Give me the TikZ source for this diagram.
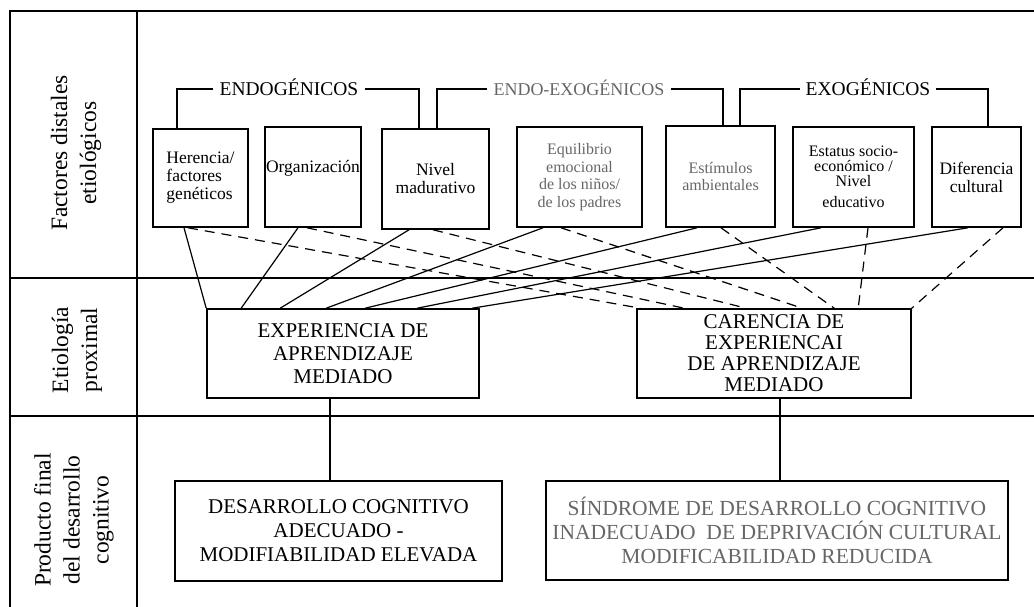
\documentclass[tikz,border=0pt]{standalone}
\usepackage{fontspec}
\setmainfont{Liberation Serif}
\usepackage{tikz}

\begin{document}
\begin{tikzpicture}[x=1pt,y=-1pt]
\tikzstyle{every node}=[inner sep=0pt]
\tikzstyle{box}=[draw,line width=1.6pt,align=center,font=\fontsize{17.5}{18}\selectfont]
\tikzstyle{dimbox}=[box,text=black!60,font=\fontsize{16}{17.5}\selectfont]
\tikzstyle{bigbox}=[box,font=\fontsize{21}{23}\selectfont]
\tikzstyle{lane}=[rotate=90,align=center,font=\fontsize{23.5}{29}\selectfont]
\tikzstyle{grp}=[inner sep=6pt,text height=13pt,text depth=0pt,font=\fontsize{19.5}{20}\selectfont]
\tikzstyle{link}=[line width=1.2pt]
\tikzstyle{nolink}=[line width=1.2pt,dash pattern=on 10pt off 7pt]
\useasboundingbox (0,0) rectangle (1034,607);

% rejilla
\draw[line width=1.6pt] (1034,11) -- (10,11) -- (10,607) (137,11) -- (137,607) (10,278) -- (1034,278) (10,416) -- (1034,416);
\node[lane] (fila1) at (76,153) {Factores distales\\etiológicos};
\node[lane] (fila2) at (77,350) {Etiología\\proximal};
\node[lane] (fila3) at (74,520) {Producto final\\del desarrollo\\cognitivo};

% factores distales
\node[box,minimum width=95,minimum height=98,align=left] (her) at (200.5,178) {Herencia/\\factores\\genéticos};
\node[box,minimum width=96,minimum height=100] (org) at (313,177) {Organización\\[4pt]\mbox{}};
\node[box,minimum width=107,minimum height=100] (niv) at (435.5,179) {Nivel\\madurativo};
\node[dimbox,minimum width=125,minimum height=100] (equ) at (579.5,177) {Equilibrio\\emocional\\de los niños/\\de los padres};
\node[dimbox,minimum width=109,minimum height=101] (est) at (720.5,176.5) {Estímulos\\ambientales};
\node[box,minimum width=121,minimum height=100,font=\fontsize{16}{15}\selectfont] (ses) at (853.5,177) {Estatus socio-\\económico /\\Nivel\\[6pt]educativo};
\node[box,minimum width=89,minimum height=100] (dif) at (976.5,177) {Diferencia\\cultural};

\node[grp] (endo) at (289,89) {ENDOGÉNICOS};
\node[grp,text=black!60,font=\fontsize{18}{20}\selectfont] (endoexo) at (579,89) {ENDO-EXOGÉNICOS};
\node[grp] (exo) at (868,89) {EXOGÉNICOS};
\draw[link] ([xshift=-23.5]her.north) |- (endo.west) (endo.east) -| ([xshift=-16.5]niv.north);
\draw[link] ([xshift=1.5]niv.north) |- (endoexo.west) (endoexo.east) -| ([xshift=2.5]est.north);
\draw[link] ([xshift=19.5]est.north) |- (exo.west) (exo.east) -| ([xshift=11.5]dif.north);

% etiologia proximal
\node[bigbox,minimum width=272,minimum height=89] (exp) at (343,353.5) {EXPERIENCIA DE\\APRENDIZAJE\\MEDIADO};
\node[bigbox,minimum width=274,minimum height=89,font=\fontsize{21}{21}\selectfont] (car) at (774,353.5) {CARENCIA DE\\EXPERIENCAI\\DE APRENDIZAJE\\MEDIADO};

\draw[link] ([xshift=-16.5]her.south) -- (exp.north west);
\draw[link] ([xshift=-15]org.south) -- ([xshift=35]exp.north west);
\draw[link] ([xshift=-26.5]niv.south) -- ([xshift=74]exp.north west);
\draw[link] ([xshift=-36.5]equ.south) -- ([xshift=120]exp.north west);
\draw[link] ([xshift=-23.5]est.south) -- ([xshift=159]exp.north west);
\draw[link] ([xshift=-32.5]ses.south) -- ([xshift=211]exp.north west);
\draw[link] ([xshift=-8.5]dif.south) -- ([xshift=266]exp.north west);

\draw[nolink] ([xshift=-12.5]her.south) -- ([xshift=4]car.north west);
\draw[nolink] ([xshift=-6]org.south) -- ([xshift=48]car.north west);
\draw[nolink] ([xshift=-2.5]niv.south) -- ([xshift=110]car.north west);
\draw[nolink] ([xshift=-18.5]equ.south) -- ([xshift=166]car.north west);
\draw[nolink] ([xshift=0.5]est.south) -- ([xshift=198]car.north west);
\draw[nolink] ([xshift=14.5]ses.south) -- ([xshift=222]car.north west);
\draw[nolink] ([xshift=26.5]dif.south) -- (car.north east);

% producto final
\node[bigbox,minimum width=327,minimum height=100,font=\fontsize{21}{24}\selectfont] (des) at (338.5,531) {DESARROLLO COGNITIVO\\ADECUADO -\\MODIFIABILIDAD ELEVADA};
\node[bigbox,minimum width=462,minimum height=99,text=black!60,font=\fontsize{21.5}{24}\selectfont] (sin) at (777,530.5) {SÍNDROME DE DESARROLLO COGNITIVO\\INADECUADO\ \ DE DEPRIVACIÓN CULTURAL\\MODIFICABILIDAD REDUCIDA};
\draw[link] ([xshift=-13]exp.south) -- ([xshift=-13]exp.south |- des.north);
\draw[link] ([xshift=6]car.south) -- ([xshift=6]car.south |- sin.north);
\end{tikzpicture}
\end{document}
